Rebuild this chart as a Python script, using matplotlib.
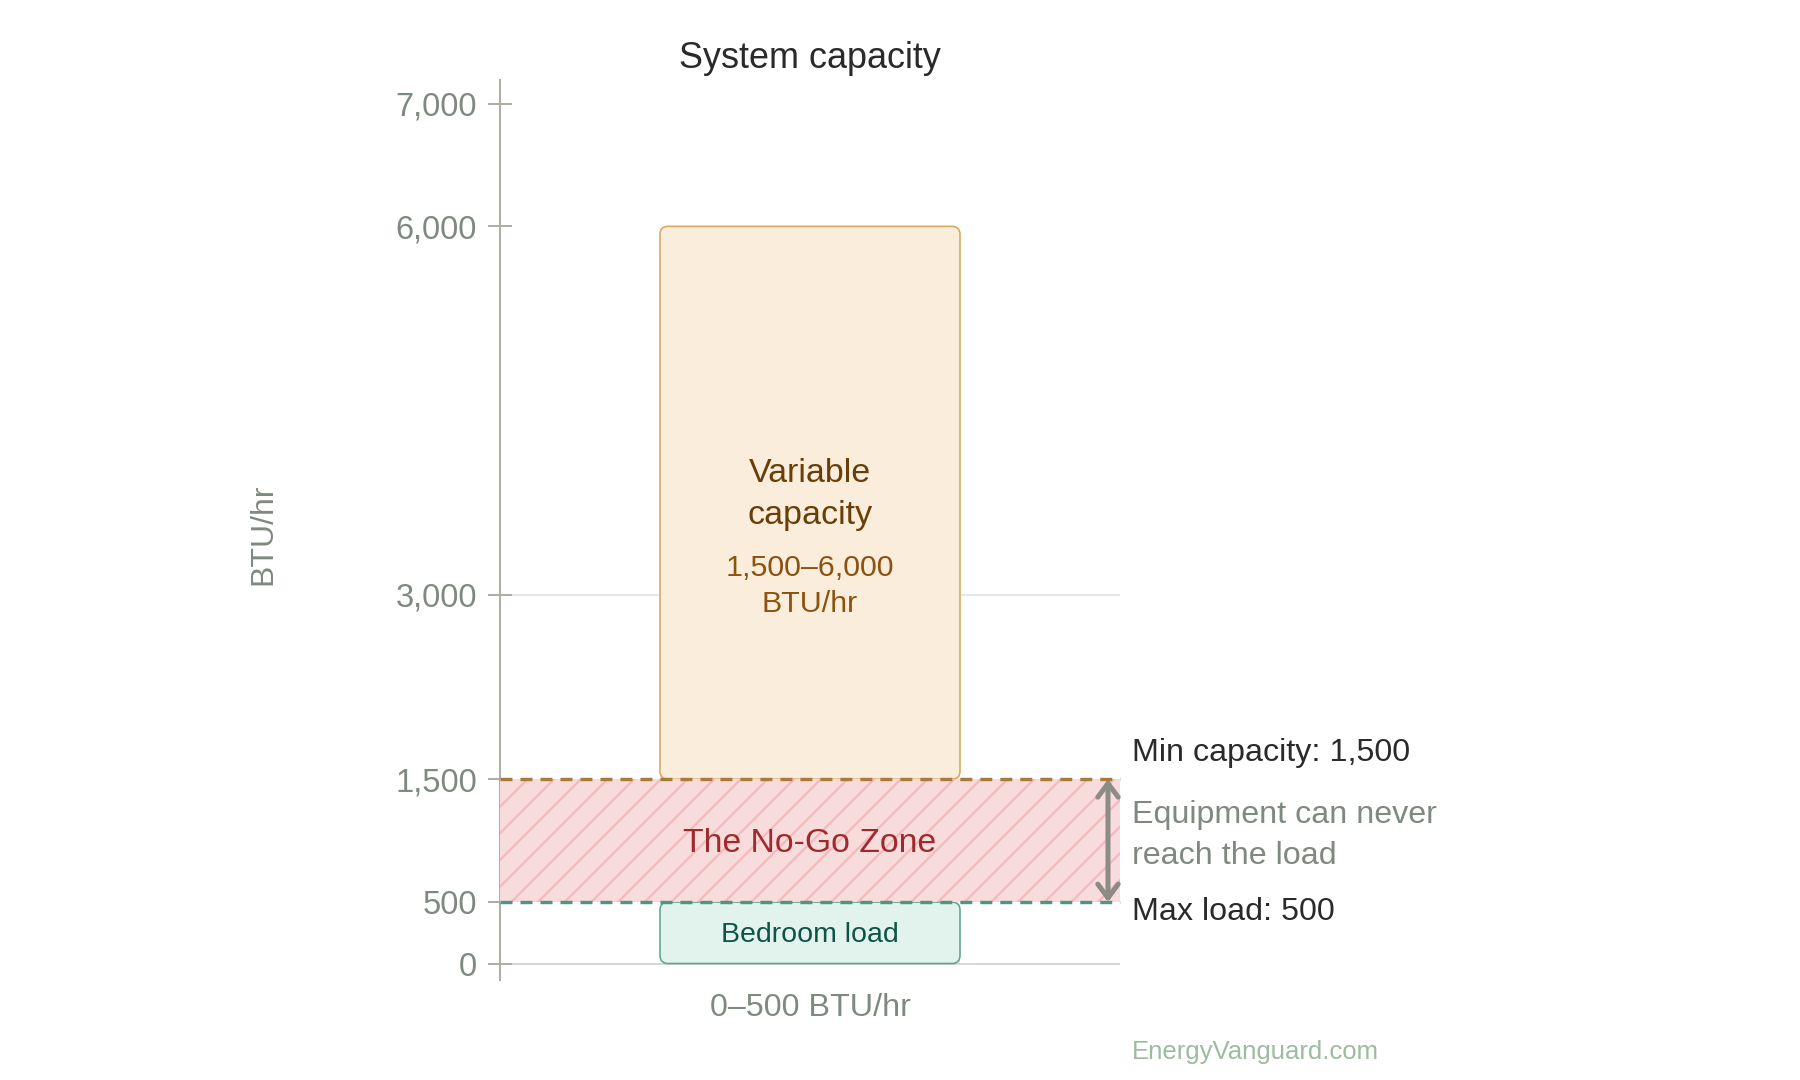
import matplotlib
matplotlib.use("Agg")
import matplotlib.pyplot as plt
from matplotlib.patches import FancyBboxPatch, Rectangle

# valores do grafico (BTU/hr)
Y_TICKS = [0, 500, 1500, 3000, 6000, 7000]
Y_LABELS = ["0", "500", "1,500", "3,000", "6,000", "7,000"]
MAX_LOAD = 500
MIN_CAP = 1500
MAX_CAP = 6000
GRID_ZERO = 0
GRID_MID = 3000
X_LABEL = "0–500 BTU/hr"

plt.rcParams["font.family"] = ["Liberation Sans", "DejaVu Sans"]
plt.rcParams["hatch.linewidth"] = 1.0
plt.rcParams["ytick.alignment"] = "center_baseline"

DPI = 160
PX = 72 / DPI  # 1 pixel em pontos

COR_EIXO = "#b0ada3"
COR_TICK = "#7e897f"
COR_TEXTO = "#2a2a2a"

fig = plt.figure(figsize=(1800 / DPI, 1080 / DPI), dpi=DPI)
ax = fig.add_axes([500 / 1800, 1 - 980 / 1080, 620 / 1800, 900 / 1080])
ax.set_xlim(0, 620)
y_px = 860 / 7000  # pixels por BTU/hr
Y0 = 963.5  # linha do zero em pixels da figura
ax.set_ylim((Y0 - 980) / y_px, (Y0 - 80) / y_px)

for s in ["top", "right", "bottom"]:
    ax.spines[s].set_visible(False)
ax.spines["left"].set_color(COR_EIXO)
ax.spines["left"].set_linewidth(2 * PX)

ax.set_yticks(Y_TICKS, Y_LABELS)
ax.tick_params(axis="y", direction="inout", length=24 * PX, width=2 * PX, color=COR_EIXO,
               labelcolor=COR_TICK, labelsize=32.6 * PX, pad=11 * PX)
ax.set_xticks([310], [X_LABEL])
ax.tick_params(axis="x", length=0, labelcolor=COR_TICK, labelsize=32.2 * PX, pad=13 * PX)

ax.set_ylabel("BTU/hr", fontsize=32 * PX, color=COR_TICK)
ax.yaxis.set_label_coords(-222 / 620, 0.5 - 4 / 900)

ax.hlines(GRID_ZERO, 0, 620, color="#d8d8d5", linewidth=2 * PX, zorder=1)
ax.hlines(GRID_MID, 0, 620, color="#e6e6e3", linewidth=2 * PX, zorder=1)


def caixa(y0, y1, face, borda):
    p = FancyBboxPatch((160, y0), 300, y1 - y0, boxstyle="round,pad=0,rounding_size=8",
                       mutation_aspect=1 / y_px, facecolor=face, edgecolor=borda,
                       linewidth=1.6 * PX, zorder=2)
    ax.add_patch(p)


caixa(MIN_CAP, MAX_CAP, "#faeddb", "#d9a85f")
caixa(0, MAX_LOAD, "#e1f3ec", "#5fa593")

# zona proibida com hachura
ax.add_patch(Rectangle((0, MAX_LOAD), 620, MIN_CAP - MAX_LOAD, facecolor="#f8dcdc",
                       edgecolor="none", zorder=3))
ax.add_patch(Rectangle((0, MAX_LOAD), 620, MIN_CAP - MAX_LOAD, facecolor="none",
                       edgecolor="#f4b9ba", hatch="//", linewidth=0, zorder=3))

ax.plot([0, 620], [MIN_CAP, MIN_CAP], color="#a97a3c", linewidth=3.4 * PX,
        dashes=(3.53, 2.35), zorder=4, clip_on=False)
ax.plot([0, 620], [MAX_LOAD, MAX_LOAD], color="#4f9583", linewidth=3.4 * PX,
        dashes=(3.53, 2.35), zorder=4, clip_on=False)

ax.annotate("", xy=(608, MAX_LOAD), xytext=(608, MIN_CAP), zorder=5,
            arrowprops=dict(arrowstyle="<->,head_length=0.62,head_width=0.46", color="#8c8c82",
                            linewidth=5 * PX, shrinkA=0, shrinkB=0))


def texto(x, py, s, tam, cor, ha="left"):
    # py = posicao vertical em pixels da figura
    ax.text(x, (Y0 - py) / y_px, s, ha=ha, va="center", fontsize=tam * PX, color=cor,
            zorder=6, clip_on=False)


texto(310, 473.5, "Variable", 34, "#6a3e08", "center")
texto(310, 515.5, "capacity", 34, "#6a3e08", "center")
texto(310, 568, "1,500–6,000", 30.4, "#8b5210", "center")
texto(310, 604, "BTU/hr", 30.4, "#8b5210", "center")
texto(310, 843, "The No-Go Zone", 33.8, "#9e2a2e", "center")
texto(310, 935, "Bedroom load", 28.5, "#0d5446", "center")

# anotacoes a direita
xt = 632
texto(xt, 753.5, "Min capacity: 1,500", 32.3, COR_TEXTO)
texto(xt, 815.5, "Equipment can never", 32.2, COR_TICK)
texto(xt, 856.5, "reach the load", 32.2, COR_TICK)
texto(xt, 912.5, "Max load: 500", 32.3, COR_TEXTO)
texto(xt, 1052.5, "EnergyVanguard.com", 25.7, "#9dbb9f")

texto(310, 59, "System capacity", 36, COR_TEXTO, "center")

fig.savefig("out.png", dpi=DPI)
